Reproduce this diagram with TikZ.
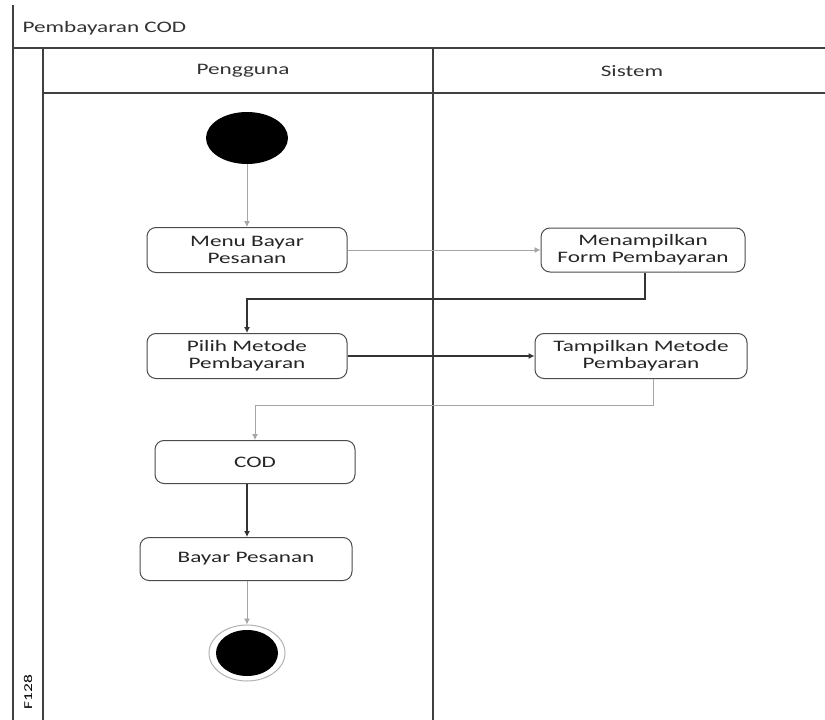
\documentclass[tikz,border=0pt]{standalone}
\usepackage{fontspec}
\setmainfont{Carlito}[FakeStretch=1.45]
\usetikzlibrary{arrows.meta,shapes.geometric}
\begin{document}
\begin{tikzpicture}[x=1pt,y=-1pt,
  lane/.style={draw=black!75,line width=1.3pt},
  act/.style={draw=black!70,line width=1pt,rounded corners=9pt,align=center,
    font=\fontsize{16}{17}\selectfont,text=black!85,inner sep=0pt},
  flow/.style={draw=black!80,line width=1.1pt,-{Latex[length=6pt,width=6pt]}},
  flowlight/.style={draw=black!35,line width=0.9pt,-{Latex[length=6pt,width=6pt]}},
  hdr/.style={font=\fontsize{16}{17}\selectfont,text=black!80}]
\useasboundingbox (0,0) rectangle (825,720);
\fill[white] (0,0) rectangle (825,720);
% pool frame and swimlanes
\draw[lane] (13,5) -- (13,720);
\draw[lane] (13,48) -- (825,48);
\draw[lane] (43,48) -- (43,720);
\draw[lane] (433,48) -- (433,720);
\draw[lane] (43,93) -- (825,93);
\node[hdr,anchor=west] (title) at (19,28) {Pembayaran COD};
\node[hdr] (h1) at (243,71) {Pengguna};
\node[hdr] (h2) at (632,71) {Sistem};
\node[font=\fontsize{12}{13}\selectfont,rotate=90] (pid) at (28,692) {F128};
% activities
\node[ellipse,fill=black,minimum width=82pt,minimum height=52pt,inner sep=0pt] (start) at (247,138) {};
\node[act,minimum width=200pt,minimum height=45pt] (menu) at (247,250) {Menu Bayar\\Pesanan};
\node[act,minimum width=204pt,minimum height=44pt] (form) at (643,250) {Menampilkan\\Form Pembayaran};
\node[act,minimum width=200pt,minimum height=45pt] (pilih) at (247,356) {Pilih Metode\\Pembayaran};
\node[act,minimum width=212pt,minimum height=45pt] (tampil) at (641,356) {Tampilkan Metode\\Pembayaran};
\node[act,minimum width=200pt,minimum height=43pt] (cod) at (255,462) {COD};
\node[act,minimum width=212pt,minimum height=43pt] (bayar) at (246,559) {Bayar Pesanan};
\node[ellipse,draw=black!30,line width=1pt,minimum width=76pt,minimum height=56pt,inner sep=0pt] (endring) at (247,653) {};
\node[ellipse,fill=black,minimum width=62pt,minimum height=46pt,inner sep=0pt] (end) at (247,653) {};
% control flow
\draw[flowlight] (start) -- (menu);
\draw[flowlight] (menu) -- (form);
\draw[flow] (form.south -| 645,0) |- (247,299) -- (pilih.north);
\draw[flow] (pilih) -- (tampil);
\draw[flowlight] (tampil.south -| 653,0) |- (255,405) -- (cod.north);
\draw[flow] (cod.south -| 247,0) -- (bayar.north -| 247,0);
\draw[flowlight] (bayar.south -| 247,0) -- (endring.north);
\end{tikzpicture}
\end{document}
